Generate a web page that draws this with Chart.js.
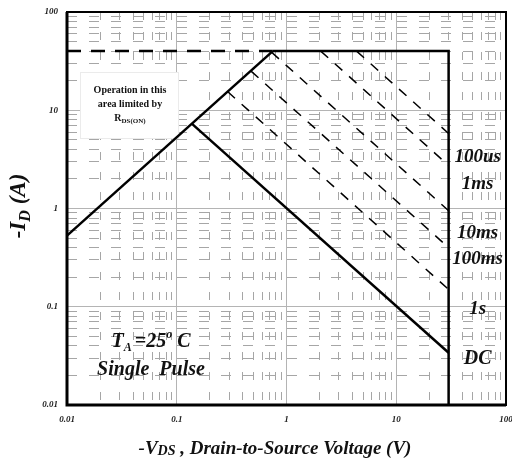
<!DOCTYPE html>
<html>
<head>
<meta charset="utf-8">
<script src="https://cdn.jsdelivr.net/npm/chart.js@4.4.0/dist/chart.umd.min.js"></script>
<style>
  html, body { margin: 0; padding: 0; background: #fff; }
</style>
</head>
<body>
<canvas id="soa" width="512" height="464"></canvas>
<script>
// safe operating area
const xTickValues = [0.01, 0.1, 1, 10, 100];
const xTickLabels = ['0.01', '0.1', '1', '10', '100'];
const yTickValues = [0.01, 0.1, 1, 10, 100];
const yTickLabels = ['0.01', '0.1', '1', '10', '100'];

// RDS(on) limited region
const rdsV = [0.01, 0.75];
const rdsI = [0.53, 40];
// dashed current limit
const pkgV = [0.01, 0.75];
const pkgI = [40, 40];
// max current / max voltage edge
const edgeV = [0.75, 30, 30];
const edgeI = [40, 40, 0.01];
// DC
const dcV = [0.137, 30];
const dcI = [7.3, 0.034];
// single pulse lines
const pulseLabels = ['100us', '1ms', '10ms', '100ms', '1s'];
const pulseStartV = [4.35, 2.05, 0.73, 0.475, 0.29];
const pulseStartI = [40, 40, 39, 25, 15.5];
const pulseEndV = [30, 30, 30, 30, 30];
const pulseEndI = [5.8, 2.74, 0.95, 0.40, 0.15];

// where the pulse / DC names sit (in amps, next to the 30V edge)
const pulseLabelI = [3.4, 1.8, 0.57, 0.31, 0.096];
const dcLabelI = 0.03;

const SERIF = '"Liberation Serif", "DejaVu Serif", serif';

function pts(xs, ys) {
    return xs.map((v, i) => ({ x: v, y: ys[i] }));
}

function logTicks() {
    const out = [];
    [0.01, 0.1, 1, 10].forEach(d => {
        for (let m = 1; m <= 9; m++) out.push(parseFloat((m * d).toPrecision(2)));
    });
    out.push(100);
    return out.map(v => ({ value: v }));
}

// draws a row of text pieces (for sub/superscripts)
function drawRuns(ctx, parts, x, y, align) {
    let w = 0;
    parts.forEach(p => {
        ctx.font = p.font;
        p.w = ctx.measureText(p.t).width;
        w += p.w;
    });
    let cx = align === 'center' ? x - w / 2 : (align === 'right' ? x - w : x);
    ctx.textAlign = 'left';
    ctx.textBaseline = 'alphabetic';
    parts.forEach(p => {
        ctx.font = p.font;
        ctx.fillText(p.t, cx, y + (p.dy || 0));
        cx += p.w;
    });
}

const bi = s => 'italic bold ' + s + 'px ' + SERIF;
const b = s => 'bold ' + s + 'px ' + SERIF;

const textPlugin = {
    id: 'soaText',
    beforeDatasetsDraw(chart) {
        const { ctx, chartArea } = chart;
        // "Operation in this area" box
        const bx = chartArea.left + 13, by = chartArea.top + 60;
        ctx.save();
        ctx.fillStyle = '#fff';
        ctx.strokeStyle = '#ebebeb';
        ctx.lineWidth = 1;
        ctx.fillRect(bx, by, 98, 66);
        ctx.strokeRect(bx + 0.5, by + 0.5, 98, 66);
        ctx.fillStyle = '#111';
        const cx = bx + 50;
        drawRuns(ctx, [{ t: 'Operation in this', font: b(10) }], cx, by + 21, 'center');
        drawRuns(ctx, [{ t: 'area limited by', font: b(10) }], cx, by + 35, 'center');
        drawRuns(ctx, [
            { t: 'R', font: b(10) },
            { t: 'DS(ON)', font: b(7), dy: 2 }
        ], cx, by + 49, 'center');
        ctx.restore();
    },
    afterDatasetsDraw(chart) {
        const { ctx, chartArea, scales } = chart;
        const sx = scales.x, sy = scales.y;
        ctx.save();
        // frame
        ctx.strokeStyle = '#000';
        ctx.lineWidth = 2;
        ctx.strokeRect(chartArea.left, chartArea.top, chartArea.right - chartArea.left, chartArea.bottom - chartArea.top);
        ctx.lineWidth = 3;
        ctx.beginPath();
        ctx.moveTo(chartArea.left, chartArea.top);
        ctx.lineTo(chartArea.left, chartArea.bottom);
        ctx.lineTo(chartArea.right, chartArea.bottom);
        ctx.stroke();

        ctx.fillStyle = '#111';
        // pulse names
        const lx = sx.getPixelForValue(30) + 29;
        pulseLabels.forEach((name, i) => {
            drawRuns(ctx, [{ t: name, font: bi(19) }], lx, sy.getPixelForValue(pulseLabelI[i]) + 6, 'center');
        });
        drawRuns(ctx, [{ t: 'DC', font: bi(20) }], lx, sy.getPixelForValue(dcLabelI) + 6, 'center');

        // TA note
        const nx = chartArea.left + 84;
        drawRuns(ctx, [
            { t: 'T', font: bi(20) },
            { t: 'A ', font: bi(12), dy: 4 },
            { t: '=25', font: bi(20) },
            { t: 'o', font: bi(12), dy: -9 },
            { t: ' C', font: bi(20) }
        ], nx, chartArea.top + 335, 'center');
        drawRuns(ctx, [{ t: 'Single  Pulse', font: bi(20) }], nx, chartArea.top + 363, 'center');

        // axis titles
        drawRuns(ctx, [
            { t: '-V', font: bi(19) },
            { t: 'DS', font: bi(14), dy: 1 },
            { t: ' , Drain-to-Source Voltage (V)', font: bi(19) }
        ], chartArea.left + 208, chartArea.bottom + 49, 'center');

        ctx.translate(18, chartArea.top + 194);
        ctx.rotate(-Math.PI / 2);
        drawRuns(ctx, [
            { t: '-I', font: bi(23) },
            { t: 'D', font: bi(16), dy: 5 },
            { t: ' (A)', font: bi(23) }
        ], 0, 7, 'center');
        ctx.restore();
    }
};

const isDecade = v => xTickValues.includes(v);

new Chart(document.getElementById('soa'), {
    type: 'scatter',
    data: {
        datasets: [
            { data: pts(rdsV, rdsI), borderColor: '#000', borderWidth: 2.5 },
            { data: pts(pkgV, pkgI), borderColor: '#000', borderWidth: 2.5, borderDash: [14, 10] },
            { data: pts(edgeV, edgeI), borderColor: '#000', borderWidth: 2.5 },
            { data: pts(dcV, dcI), borderColor: '#000', borderWidth: 2.5 },
            ...pulseLabels.map((name, i) => ({
                label: name,
                data: pts([pulseStartV[i], pulseEndV[i]], [pulseStartI[i], pulseEndI[i]]),
                borderColor: '#000',
                borderWidth: 1.5,
                borderDash: [10, 9]
            }))
        ]
    },
    options: {
        responsive: false,
        animation: false,
        showLine: true,
        elements: { point: { radius: 0, hoverRadius: 0 }, line: { tension: 0 } },
        layout: { padding: { left: 0, right: 6, top: 12, bottom: 0 } },
        plugins: { legend: { display: false }, tooltip: { enabled: false } },
        scales: {
            x: {
                type: 'logarithmic',
                min: 0.01,
                max: 100,
                afterBuildTicks: s => { s.ticks = logTicks(); },
                afterFit: s => { s.height = 59; s.paddingLeft = 0; s.paddingRight = 0; },
                ticks: {
                    autoSkip: false,
                    maxRotation: 0,
                    padding: 9,
                    color: '#222',
                    font: { family: SERIF, size: 9, style: 'italic', weight: 'bold' },
                    callback: v => {
                        const k = xTickValues.indexOf(v);
                        return k >= 0 ? xTickLabels[k] : '';
                    }
                },
                grid: {
                    drawTicks: false,
                    lineWidth: 1,
                    color: c => (c.tick && isDecade(c.tick.value)) ? '#b4b4b4' : '#a6a6a6'
                },
                border: {
                    display: false,
                    dash: c => (c.tick && isDecade(c.tick.value)) ? [] : [8, 12]
                }
            },
            y: {
                type: 'logarithmic',
                min: 0.01,
                max: 100,
                afterBuildTicks: s => { s.ticks = logTicks(); },
                afterFit: s => { s.width = 67; s.paddingTop = 0; s.paddingBottom = 0; },
                ticks: {
                    autoSkip: false,
                    padding: 9,
                    color: '#222',
                    font: { family: SERIF, size: 9, style: 'italic', weight: 'bold' },
                    callback: v => {
                        const k = yTickValues.indexOf(v);
                        return k >= 0 ? yTickLabels[k] : '';
                    }
                },
                grid: {
                    drawTicks: false,
                    lineWidth: 1,
                    color: c => (c.tick && yTickValues.includes(c.tick.value)) ? '#b4b4b4' : '#a6a6a6'
                },
                border: {
                    display: false,
                    dash: c => (c.tick && yTickValues.includes(c.tick.value)) ? [] : [10, 12]
                }
            }
        }
    },
    plugins: [textPlugin]
});
</script>
</body>
</html>
